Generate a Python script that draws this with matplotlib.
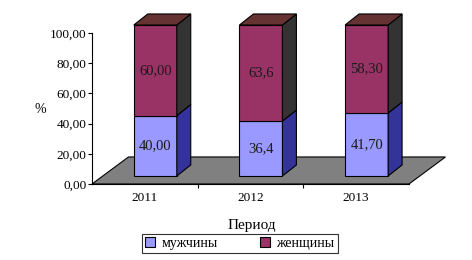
import matplotlib
matplotlib.use("Agg")
import matplotlib.pyplot as plt
from matplotlib.patches import Polygon, Patch
from matplotlib.ticker import FuncFormatter

# data
years = ["2011", "2012", "2013"]
men = [40.0, 36.4, 41.7]
women = [60.0, 63.6, 58.3]
men_labels = ["40,00", "36,4", "41,70"]
women_labels = ["60,00", "63,6", "58,30"]
series_names = ["мужчины", "женщины"]

plt.rcParams['font.family'] = ['Liberation Serif', 'DejaVu Serif']

W, H = 472, 260
fig = plt.figure(figsize=(W / 100, H / 100), dpi=100)
ax = fig.add_axes([92 / W, 1 - 184 / H, (409 - 92) / W, (184 - 33) / H])
ax.set_xlim(-0.5, 2.5)
ax.set_ylim(0, 100)

# 3d look (in data units)
floor_dx, floor_dy = 0.345, 17.9
bar_sx, bar_sy = 0.099, 5.3
bar_ddx, bar_ddy = 0.132, 7.3
bar_w = 0.407

front_cols = ['#9999FF', '#993366']
side_cols = ['#333399', '#333333']
top_col = '#663333'
ec = 'black'
lw = 0.8

def poly(pts, fc, z=2):
    ax.add_patch(Polygon(pts, closed=True, facecolor=fc, edgecolor=ec,
                         linewidth=lw, clip_on=False, zorder=z))

# floor
x0, x1 = -0.5, 2.5
poly([(x0, 0), (x1, 0), (x1 + floor_dx, floor_dy), (x0 + floor_dx, floor_dy)],
     '#808080', z=1)

for i in range(len(years)):
    bl = i - bar_w / 2 + bar_sx
    br = bl + bar_w
    bottom = bar_sy
    for s, vals in enumerate([men, women]):
        top = bottom + vals[i]
        poly([(bl, bottom), (br, bottom), (br, top), (bl, top)], front_cols[s])
        poly([(br, bottom), (br + bar_ddx, bottom + bar_ddy),
              (br + bar_ddx, top + bar_ddy), (br, top)], side_cols[s])
        lab = men_labels[i] if s == 0 else women_labels[i]
        ax.text((bl + br) / 2, (bottom + top) / 2, lab, ha='center', va='center',
                fontsize=10.5, color='#1a1a1a', zorder=5, clip_on=False)
        bottom = top
    poly([(bl, bottom), (br, bottom), (br + bar_ddx, bottom + bar_ddy),
          (bl + bar_ddx, bottom + bar_ddy)], top_col)

# axes
for sp in ['top', 'right']:
    ax.spines[sp].set_visible(False)
ax.spines['left'].set_linewidth(0.8)
ax.spines['bottom'].set_linewidth(0.8)
ax.spines['bottom'].set_zorder(3)
ax.set_yticks(range(0, 101, 20))
ax.yaxis.set_major_formatter(FuncFormatter(lambda v, p: f"{v:.2f}".replace('.', ',')))
ax.tick_params(axis='y', direction='out', length=3, width=0.8, pad=1, labelsize=9.5)
ax.set_xticks(range(len(years)))
ax.set_xticklabels(years)
ax.set_xticks([0.5, 1.5], minor=True)
ax.tick_params(axis='x', which='major', length=0, pad=6, labelsize=9.5)
ax.tick_params(axis='x', which='minor', direction='out', length=3, width=0.8)

fig.text(40 / W, 1 - 109 / H, "%", fontsize=10, ha='center', va='center')
fig.text(252 / W, 1 - 225 / H, "Период", fontsize=11, ha='center', va='center')

handles = [Patch(facecolor=front_cols[0], edgecolor=ec, linewidth=0.8),
           Patch(facecolor=front_cols[1], edgecolor=ec, linewidth=0.8)]
leg = fig.legend(handles, series_names, loc='center', ncol=2,
                 bbox_to_anchor=(240 / W, 1 - 243.5 / H), fontsize=10,
                 frameon=True, fancybox=False, edgecolor='black',
                 handlelength=0.7, handleheight=0.7, handletextpad=0.5,
                 columnspacing=3.0, borderpad=0.25, borderaxespad=0)
leg.get_frame().set_linewidth(0.8)

fig.savefig("out.png", dpi=100)
